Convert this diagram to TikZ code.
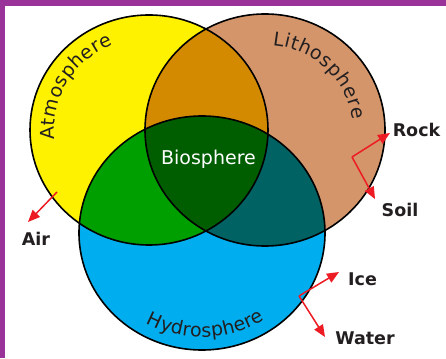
\documentclass[tikz,border=0pt]{standalone}
\usepackage{fontspec}
\setmainfont{DejaVu Sans}
\usetikzlibrary{arrows.meta,decorations.text}
\definecolor{cyellow}{HTML}{FFF200}
\definecolor{ctan}{HTML}{D4956B}
\definecolor{corange}{HTML}{D48A00}
\definecolor{cgreen}{HTML}{009F00}
\definecolor{cdark}{HTML}{005E00}
\definecolor{cteal}{HTML}{006262}
\definecolor{cblue}{HTML}{00AEEF}
\definecolor{framepurple}{HTML}{993399}
\definecolor{cred}{HTML}{ED1C24}
\definecolor{labelgray}{HTML}{231F20}
\newcommand{\arcfont}{\fontsize{19}{19}\selectfont\color{labelgray}}
\tikzset{
  outline/.style={draw=black, line width=1.6pt},
  redarrow/.style={draw=cred, line width=1.5pt, -{Triangle[length=12pt,width=10pt]}},
  outerlabel/.style={font=\bfseries\fontsize{17.5}{17.5}\selectfont, text=labelgray, anchor=base, inner sep=0pt},
  arclabel/.style={decorate, decoration={text along path, text={#1}, text align={fit to path}}}
}
\begin{document}
\begin{tikzpicture}[x=1pt,y=1pt]
\useasboundingbox (0,0) rectangle (446,358);
\fill[white] (0,0) rectangle (446,358);
\fill[framepurple] (0,0) rectangle (5,358);
\fill[framepurple] (0,352) rectangle (446,358);

\coordinate (Yc) at (149,228);
\coordinate (Bc) at (265,228);
\coordinate (Hc) at (202,125);

% base fills
\fill[cyellow] (Yc) ellipse [x radius=119pt, y radius=115pt];
\fill[ctan] (Bc) ellipse [x radius=120pt, y radius=116pt];
\fill[cblue] (Hc) ellipse [x radius=123pt, y radius=117pt];
% overlaps
\begin{scope}
  \clip (Yc) ellipse [x radius=119pt, y radius=115pt];
  \fill[corange] (Bc) ellipse [x radius=120pt, y radius=116pt];
\end{scope}
\begin{scope}
  \clip (Yc) ellipse [x radius=119pt, y radius=115pt];
  \fill[cgreen] (Hc) ellipse [x radius=123pt, y radius=117pt];
\end{scope}
\begin{scope}
  \clip (Bc) ellipse [x radius=120pt, y radius=116pt];
  \fill[cteal] (Hc) ellipse [x radius=123pt, y radius=117pt];
\end{scope}
\begin{scope}
  \clip (Yc) ellipse [x radius=119pt, y radius=115pt];
  \clip (Bc) ellipse [x radius=120pt, y radius=116pt];
  \fill[cdark] (Hc) ellipse [x radius=123pt, y radius=117pt];
\end{scope}
% outlines
\draw[outline] (Yc) ellipse [x radius=119pt, y radius=115pt];
\draw[outline] (Bc) ellipse [x radius=120pt, y radius=116pt];
\draw[outline] (Hc) ellipse [x radius=123pt, y radius=117pt];

% curved labels
\path[arclabel={|\arcfont|Atmosphere}]
  ([shift={(186:95pt and 92pt)}]Yc) arc[start angle=186, end angle=112, x radius=95pt, y radius=92pt];
\path[arclabel={|\arcfont|Lithosphere}]
  ([shift={(85:88pt and 85pt)}]Bc) arc[start angle=85, end angle=7, x radius=88pt, y radius=85pt];
\path[arclabel={|\arcfont|Hydrosphere}]
  ([shift={(240:112pt and 104pt)}]Hc) arc[start angle=240, end angle=304, x radius=112pt, y radius=104pt];

% centre label
\node[font=\fontsize{19}{19}\selectfont, text=white, anchor=base, inner sep=0pt] (bio) at (208.5,193) {Biosphere};

% outer labels
\node[outerlabel] (rock) at (416.5,221) {Rock};
\node[outerlabel] (soil) at (400,141) {Soil};
\node[outerlabel] (air) at (36,112) {Air};
\node[outerlabel] (ice) at (362.5,72) {Ice};
\node[outerlabel] (water) at (365,13) {Water};

% arrow coordinates
\coordinate (airS) at (57,166);
\coordinate (airE) at (28,136);
\coordinate (rsV) at (352,201);
\coordinate (rockE) at (390,225);
\coordinate (soilE) at (375,159);
\coordinate (iwV) at (299,62);
\coordinate (iceE) at (339,86);
\coordinate (waterE) at (325,21);

\draw[redarrow] (airS) -- (airE);
\draw[redarrow] (rsV) -- (rockE);
\draw[redarrow] (rsV) -- (soilE);
\draw[redarrow] (iwV) -- (iceE);
\draw[redarrow] (iwV) -- (waterE);
\end{tikzpicture}
\end{document}
